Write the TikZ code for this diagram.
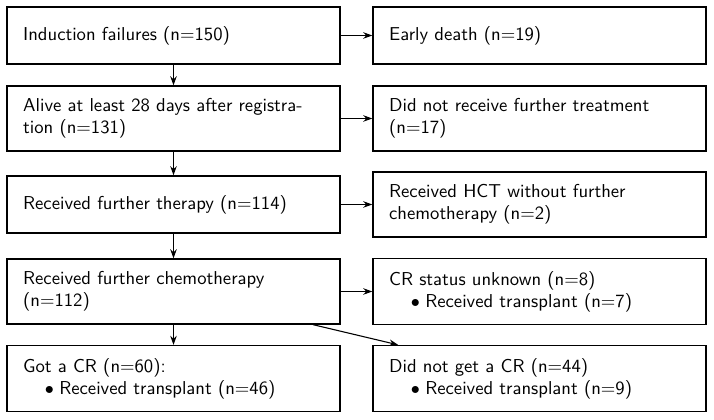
\documentclass[tikz,border=0pt]{standalone}
\usetikzlibrary{arrows.meta}
\begin{document}
\begin{tikzpicture}[x=0.552pt,y=-0.552pt,
  box/.style={draw,line width=0.8pt,minimum width=183.8pt,text width=166pt,
    inner xsep=7.7pt,inner ysep=7pt,minimum height=31.5pt,align=left,
    font=\sffamily\fontsize{10.3}{12}\selectfont},
  arr/.style={-{Stealth[length=5pt,width=3.6pt]},line width=0.6pt}]
\useasboundingbox (0,0) rectangle (714,420);
\newcommand{\bul}{\\\hspace*{12pt}$\bullet$\hspace{3pt}}
\node[box] (a1) at (173.5,35.5) {Induction failures (n=150)};
\node[box] (b1) at (539.5,35.5) {Early death (n=19)};
\node[box] (a2) at (173.5,118.5) {Alive at least 28 days after registra\-tion (n=131)};
\node[box] (b2) at (539.5,118.5) {Did not receive further treatment (n=17)};
\node[box] (a3) at (173.5,204.5) {Received further therapy (n=114)};
\node[box] (b3) at (539.5,204.5) {Received HCT without further chemotherapy (n=2)};
\node[box] (a4) at (173.5,291.5) {Received further chemotherapy (n=112)};
\node[box] (b4) at (539.5,291.5) {CR status unknown (n=8)\bul Received transplant (n=7)};
\node[box] (a5) at (173.5,378.5) {Got a CR (n=60):\bul Received transplant (n=46)};
\node[box] (b5) at (539.5,378.5) {Did not get a CR (n=44)\bul Received transplant (n=9)};
\draw[arr] (a1) -- (b1);
\draw[arr] (a2) -- (b2);
\draw[arr] (a3) -- (b3);
\draw[arr] (a4) -- (b4);
\draw[arr] (a1) -- (a2);
\draw[arr] (a2) -- (a3);
\draw[arr] (a3) -- (a4);
\draw[arr] (a4) -- (a5);
\draw[arr] (a4) -- (b5);
\end{tikzpicture}
\end{document}
